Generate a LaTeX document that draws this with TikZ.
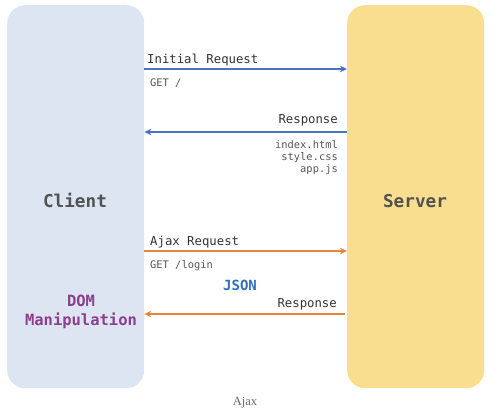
\documentclass[tikz,border=0pt]{standalone}
\usepackage{fontspec}
\setmonofont{DejaVu Sans Mono}
\setmainfont{Liberation Serif}
\usetikzlibrary{arrows.meta}
\definecolor{clientfill}{HTML}{DDE5F3}
\definecolor{serverfill}{HTML}{F9DE8F}
\definecolor{bluearr}{HTML}{4A72C4}
\definecolor{orangearr}{HTML}{E8833A}
\definecolor{purp}{HTML}{8E3E8E}
\definecolor{jsonblue}{HTML}{2F6FC0}
\definecolor{darktxt}{HTML}{333333}
\definecolor{greytxt}{HTML}{555555}
\tikzset{
  panel/.style={rounded corners=18pt, minimum width=137pt, minimum height=383pt, inner sep=0pt, draw=none},
  boxlabel/.style={font=\ttfamily\bfseries\fontsize{17.7}{20}\selectfont, text=darktxt!85, anchor=base},
  msg/.style={font=\ttfamily\fontsize{12.3}{14}\selectfont, text=darktxt, inner sep=0pt},
  detail/.style={font=\ttfamily\fontsize{10.4}{12}\selectfont, text=greytxt, inner sep=0pt},
  bluecon/.style={draw=bluearr, line width=2pt, -{Stealth[length=7pt,width=6.5pt]}},
  orangecon/.style={draw=orangearr, line width=2pt, -{Stealth[length=7pt,width=6.5pt]}},
}
\begin{document}
\begin{tikzpicture}[x=1pt,y=-1pt]
\useasboundingbox (0,0) rectangle (494,413);
\node[panel, fill=clientfill, anchor=north west] (client) at (7,5) {};
\node[panel, fill=serverfill, anchor=north west] (server) at (347,5) {};
\node[boxlabel] (clientlbl) at (75,207) {Client};
\node[boxlabel] (serverlbl) at (415,207) {Server};
% Initial request
\draw[bluecon] (client.east |- 0,69) -- (server.west |- 0,69);
\node[msg, anchor=base west] (ireq) at (147,63) {Initial Request};
\node[detail, anchor=base west] (get1) at (150,86) {GET /};
% Response
\draw[bluecon] (server.west |- 0,132) -- (client.east |- 0,132);
\node[msg, anchor=base east] (resp1) at (338,123) {Response};
\node[detail, anchor=base east] (files) at (338,148) {index.html};
\node[detail, anchor=base east] (files2) at (338,160) {style.css};
\node[detail, anchor=base east] (files3) at (338,172) {app.js};
% Ajax request
\draw[orangecon] (client.east |- 0,251) -- (server.west |- 0,251);
\node[msg, anchor=base west] (areq) at (150,245) {Ajax Request};
\node[detail, anchor=base west] (get2) at (150,268) {GET /login};
\node[font=\ttfamily\bfseries\fontsize{14}{16}\selectfont, text=jsonblue, anchor=base, inner sep=0pt] (json) at (240,290) {JSON};
% Response 2
\draw[orangecon] ([xshift=-2pt]server.west |- 0,314) -- (client.east |- 0,314);
\node[msg, anchor=base east] (resp2) at (337,307) {Response};
\node[font=\ttfamily\bfseries\fontsize{15.5}{19}\selectfont, text=purp, anchor=base, inner sep=0pt] (dom) at (81,306) {DOM};
\node[font=\ttfamily\bfseries\fontsize{15.5}{19}\selectfont, text=purp, anchor=base, inner sep=0pt] (manip) at (81,325) {Manipulation};
% Caption
\node[font=\fontsize{12.5}{14}\selectfont, text=black!60, anchor=base, inner sep=0pt] (cap) at (245,405) {Ajax};
\end{tikzpicture}
\end{document}
